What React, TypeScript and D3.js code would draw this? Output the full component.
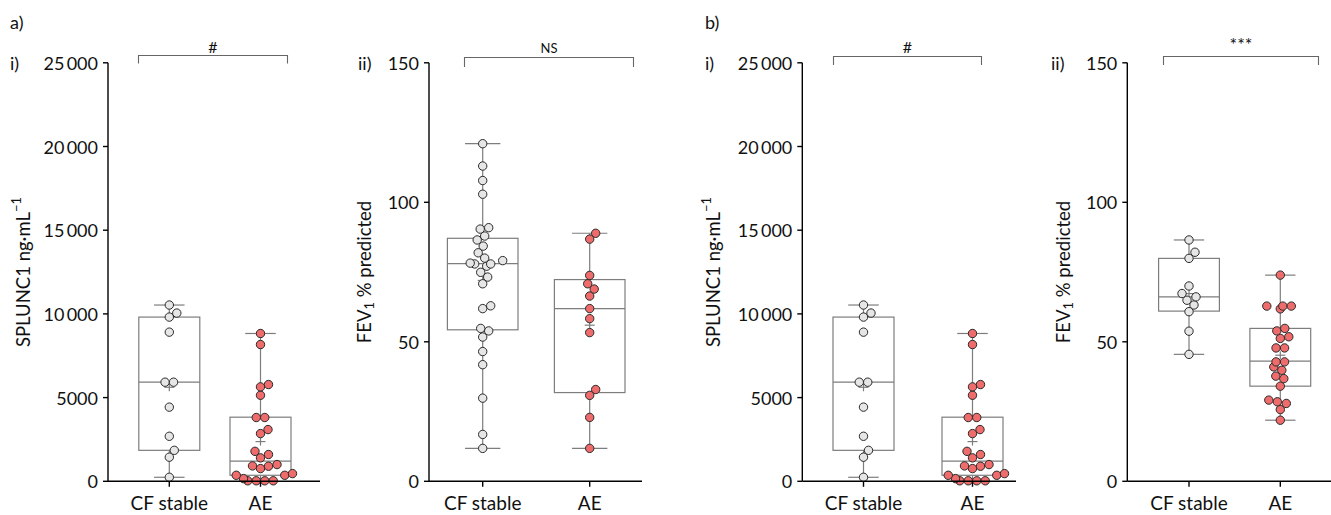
import React from "react";
import * as d3 from "d3";

// ---------- DATA ----------
const categories = ["CF stable", "AE"];

// SPLUNC1 ng/mL (same cohort shown in a-i and b-i)
const splunc1Stable = [10530, 9810, 10050, 8910, 5920, 5920, 4430, 2690, 1850, 1440, 240];
const splunc1AE = [8830, 8170, 5640, 5780, 5140, 3810, 3810, 3090, 2850, 1790, 1400, 1600,
  1000, 900, 760, 920, 360, 160, 360, 460, 30, 30, 30, 30];

// FEV1 % predicted, panel a-ii
const fev1aStable = [121.0, 113.0, 107.8, 102.9, 90.4, 90.9, 87.9, 86.5, 84.3, 81.9, 77.9, 79.1,
  78.2, 80.0, 77.1, 77.9, 74.9, 73.2, 70.8, 61.9, 62.9, 53.9, 54.8, 51.7, 46.5, 41.8, 29.8, 16.8, 11.8];
const fev1aAE = [88.9, 86.8, 73.8, 70.8, 68.9, 66.4, 61.9, 58.3, 53.3, 32.9, 30.8, 22.9, 11.8];

// FEV1 % predicted, panel b-ii
const fev1bStable = [86.5, 82.1, 79.9, 70.0, 66.1, 67.3, 64.9, 63.2, 60.8, 53.8, 45.5];
const fev1bAE = [73.9, 62.8, 61.8, 62.8, 62.8, 53.9, 54.8, 51.2, 51.8, 47.8, 47.8, 42.8, 42.8,
  41.0, 39.8, 37.7, 36.8, 34.1, 27.9, 29.1, 28.5, 25.7, 21.9];

// box quartiles [q1, median, q3]
const splunc1StableBox = [1850, 5920, 9810];
const splunc1AEBox = [360, 1200, 3830];
const fev1aStableBox = [54.3, 78.0, 87.1];
const fev1aAEBox = [31.8, 61.9, 72.3];
const fev1bStableBox = [61.0, 66.1, 79.9];
const fev1bAEBox = [34.1, 43.1, 54.8];

const splunc1Ticks = [0, 5000, 10000, 15000, 20000, 25000];
const splunc1TickLabels = ["0", "5000", "10\u2009000", "15\u2009000", "20\u2009000", "25\u2009000"];
const fevTicks = [0, 50, 100, 150];
const fevTickLabels = ["0", "50", "100", "150"];

// ---------- LAYOUT ----------
const W = 1331;
const H = 515;
const Y_TOP = 62.8;
const Y_BOT = 481.3;
const FONT = "Lato, 'Open Sans', sans-serif";
const FS = 18;
const BOX_COLOR = "#7d7d7d";
const STABLE_FILL = "#e6e6e6";
const AE_FILL = "#ef6c6c";
const R = 4.2;

type Panel = {
  axisX: number; xEnd: number; c0: number; c1: number; boxHalf: number;
  domainMax: number; ticks: number[]; tickLabels: string[];
  groups: { vals: number[]; box: number[]; fill: string }[];
  yLabel: "splunc" | "fev"; yLabelX: number;
  roman: string; romanX: number;
  bracket: { x1: number; x2: number; y: number; drop: number; text: string; textY: number; size: number };
};

const panels: Panel[] = [
  {
    axisX: 108, xEnd: 320, c0: 169.3, c1: 260.5, boxHalf: 30.5, domainMax: 25000,
    ticks: splunc1Ticks, tickLabels: splunc1TickLabels,
    groups: [
      { vals: splunc1Stable, box: splunc1StableBox, fill: STABLE_FILL },
      { vals: splunc1AE, box: splunc1AEBox, fill: AE_FILL },
    ],
    yLabel: "splunc", yLabelX: 23, roman: "i)", romanX: 10,
    bracket: { x1: 138.5, x2: 287.5, y: 55.5, drop: 8, text: "#", textY: 46, size: 16 },
  },
  {
    axisX: 429, xEnd: 642, c0: 482.7, c1: 589.7, boxHalf: 35.3, domainMax: 150,
    ticks: fevTicks, tickLabels: fevTickLabels,
    groups: [
      { vals: fev1aStable, box: fev1aStableBox, fill: STABLE_FILL },
      { vals: fev1aAE, box: fev1aAEBox, fill: AE_FILL },
    ],
    yLabel: "fev", yLabelX: 364, roman: "ii)", romanX: 358,
    bracket: { x1: 464.5, x2: 633.5, y: 57.5, drop: 9.5, text: "NS", textY: 47.5, size: 13 },
  },
  {
    axisX: 802.3, xEnd: 1016, c0: 863.5, c1: 972.5, boxHalf: 30.5, domainMax: 25000,
    ticks: splunc1Ticks, tickLabels: splunc1TickLabels,
    groups: [
      { vals: splunc1Stable, box: splunc1StableBox, fill: STABLE_FILL },
      { vals: splunc1AE, box: splunc1AEBox, fill: AE_FILL },
    ],
    yLabel: "splunc", yLabelX: 713, roman: "i)", romanX: 705,
    bracket: { x1: 833.5, x2: 981.5, y: 56.5, drop: 8.5, text: "#", textY: 46, size: 16 },
  },
  {
    axisX: 1127.3, xEnd: 1331, c0: 1189, c1: 1280.3, boxHalf: 30.4, domainMax: 150,
    ticks: fevTicks, tickLabels: fevTickLabels,
    groups: [
      { vals: fev1bStable, box: fev1bStableBox, fill: STABLE_FILL },
      { vals: fev1bAE, box: fev1bAEBox, fill: AE_FILL },
    ],
    yLabel: "fev", yLabelX: 1063, roman: "ii)", romanX: 1051,
    bracket: { x1: 1163.5, x2: 1318.5, y: 56.5, drop: 8.5, text: "***", textY: 44, size: 18 },
  },
];

// simple beeswarm: greedy placement, then centre rows of identical values
function swarm(vals: number[], y: (v: number) => number, cx: number) {
  const dmin = 8.3;
  const sorted = vals.map((v, i) => ({ v, i, y: y(v), dx: 0 })).sort((a, b) => a.v - b.v);
  const placed: typeof sorted = [];
  for (const p of sorted) {
    let found = 0;
    for (let k = 0; k < 400; k++) {
      const step = Math.ceil(k / 2) * 0.5;
      const off = k % 2 === 1 ? step : -step;
      const ok = placed.every((q) => Math.hypot(q.dx - off, q.y - p.y) >= dmin);
      if (ok) { found = off; break; }
    }
    p.dx = found;
    placed.push(p);
  }
  const rows = d3.group(placed, (p) => p.v);
  for (const [, row] of rows) {
    if (row.length > 1) {
      const m = d3.mean(row, (p) => p.dx) as number;
      row.forEach((p) => (p.dx -= m));
    }
  }
  return placed.map((p) => ({ x: cx + p.dx, y: p.y }));
}

function PanelView({ p }: { p: Panel }) {
  const y = d3.scaleLinear().domain([0, p.domainMax]).range([Y_BOT, Y_TOP]);
  const x = d3.scalePoint<string>().domain(categories).range([p.c0, p.c1]);
  return (
    <g>
      {p.groups.map((g, gi) => {
        const cx = x(categories[gi]) as number;
        const [lo, hi] = d3.extent(g.vals) as [number, number];
        const [q1, med, q3] = g.box;
        const mean = d3.mean(g.vals) as number;
        const cap = p.boxHalf / 2;
        return (
          <g key={"b" + gi} stroke={BOX_COLOR} fill="none" strokeWidth={1.2}>
            <line x1={cx} x2={cx} y1={y(hi)} y2={y(q3)} />
            <line x1={cx} x2={cx} y1={y(q1)} y2={y(lo)} />
            <line x1={cx - cap} x2={cx + cap} y1={y(hi)} y2={y(hi)} />
            <line x1={cx - cap} x2={cx + cap} y1={y(lo)} y2={y(lo)} />
            <rect x={cx - p.boxHalf} width={p.boxHalf * 2} y={y(q3)} height={y(q1) - y(q3)} />
            <line x1={cx - p.boxHalf} x2={cx + p.boxHalf} y1={y(med)} y2={y(med)} />
            <line x1={cx - 5} x2={cx + 5} y1={y(mean)} y2={y(mean)} />
            <line x1={cx} x2={cx} y1={y(mean) - 4} y2={y(mean) + 4} />
          </g>
        );
      })}
      {p.groups.map((g, gi) => {
        const cx = x(categories[gi]) as number;
        return swarm(g.vals, y, cx).map((pt, i) => (
          <circle key={gi + "-" + i} cx={pt.x} cy={pt.y} r={R} fill={g.fill} stroke="#2a2a2a" strokeWidth={1} />
        ));
      })}
      <g stroke="#000" strokeWidth={1.4}>
        <line x1={p.axisX} x2={p.axisX} y1={Y_TOP} y2={Y_BOT} />
        <line x1={p.axisX} x2={p.xEnd} y1={Y_BOT} y2={Y_BOT} />
        {p.ticks.map((t) => (
          <line key={t} x1={p.axisX - 5} x2={p.axisX} y1={y(t)} y2={y(t)} />
        ))}
        {categories.map((c) => (
          <line key={c} x1={x(c)} x2={x(c)} y1={Y_BOT} y2={Y_BOT + 5.5} />
        ))}
      </g>
      {p.ticks.map((t, i) => (
        <text key={"tl" + t} x={p.axisX - 10} y={y(t)} textAnchor="end" dominantBaseline="central"
          fontFamily={FONT} fontSize={FS} fill="#111">{p.tickLabels[i]}</text>
      ))}
      {categories.map((c) => (
        <text key={"xl" + c} x={x(c)} y={510} textAnchor="middle"
          fontFamily={FONT} fontSize={FS + 1} fill="#111">{c}</text>
      ))}
      <text transform={`translate(${p.yLabelX},272) rotate(-90)`} textAnchor="middle" dominantBaseline="central"
        fontFamily={FONT} fontSize={FS + 0.5} fill="#111">
        {p.yLabel === "splunc" ? (
          <>
            <tspan>SPLUNC1 ng·mL</tspan>
            <tspan fontSize={13} dy={-7}>−1</tspan>
          </>
        ) : (
          <>
            <tspan>FEV</tspan>
            <tspan fontSize={13} dy={5}>1</tspan>
            <tspan dy={-5}> % predicted</tspan>
          </>
        )}
      </text>
      <text x={p.romanX} y={Y_TOP} dominantBaseline="central" fontFamily={FONT} fontSize={FS} fill="#111">{p.roman}</text>
      <path d={`M${p.bracket.x1},${p.bracket.y + p.bracket.drop}V${p.bracket.y}H${p.bracket.x2}V${p.bracket.y + p.bracket.drop}`}
        fill="none" stroke="#666" strokeWidth={1.1} />
      <text x={(p.bracket.x1 + p.bracket.x2) / 2} y={p.bracket.textY} textAnchor="middle" dominantBaseline="central"
        fontFamily={FONT} fontSize={p.bracket.size} fill="#111">{p.bracket.text}</text>
    </g>
  );
}

export default function App() {
  return (
    <svg width={W} height={H} style={{ position: "absolute", left: 0, top: 0, background: "#fff" }}>
      <rect width={W} height={H} fill="#fff" />
      <text x={10} y={22} dominantBaseline="central" fontFamily={FONT} fontSize={FS} fill="#111">a)</text>
      <text x={705} y={22} dominantBaseline="central" fontFamily={FONT} fontSize={FS} fill="#111">b)</text>
      {panels.map((p, i) => (
        <PanelView key={i} p={p} />
      ))}
    </svg>
  );
}
